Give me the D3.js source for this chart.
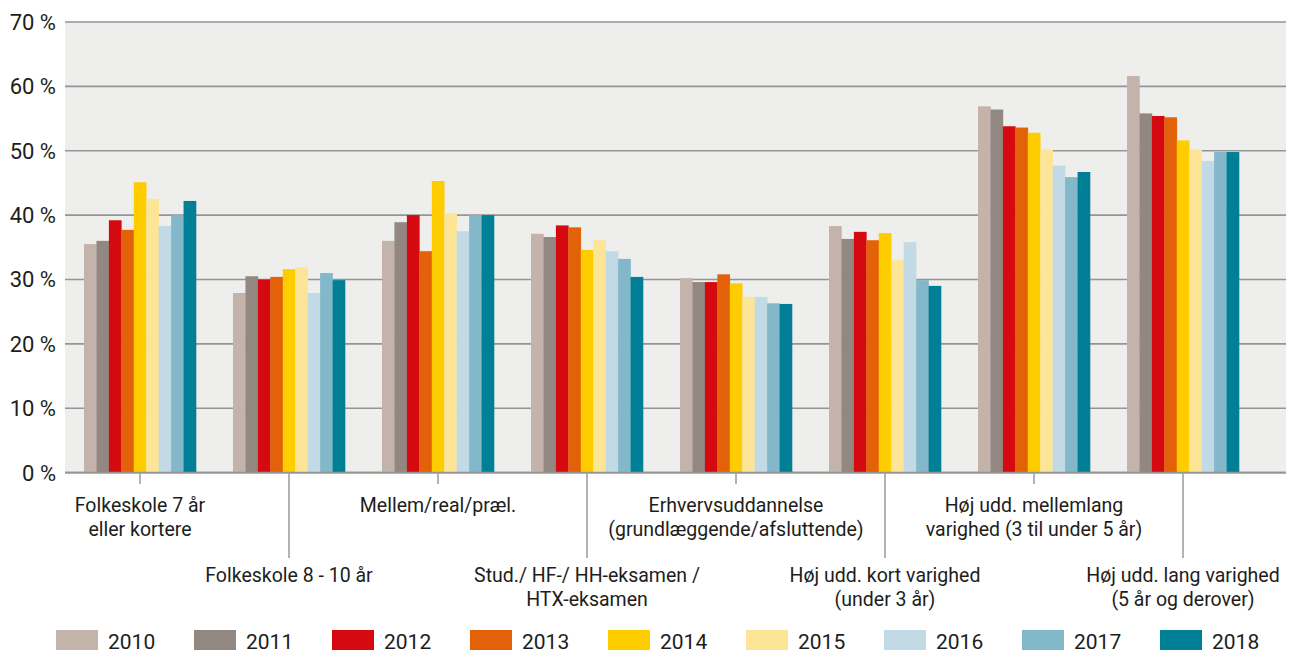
<!DOCTYPE html>
<html><head><meta charset="utf-8">
<script src="https://cdn.jsdelivr.net/npm/d3@7"></script>
<style>
html,body{margin:0;padding:0;background:#fff;}
svg{display:block;font-family:Roboto, "DejaVu Sans", sans-serif;}
</style></head>
<body><svg id="chart" width="1295" height="653"></svg>
<script>
const categories = ["Folkeskole 7 år eller kortere","Folkeskole 8 - 10 år","Mellem/real/præl.","Stud./ HF-/ HH-eksamen / HTX-eksamen","Erhvervsuddannelse (grundlæggende/afsluttende)","Høj udd. kort varighed (under 3 år)","Høj udd. mellemlang varighed (3 til under 5 år)","Høj udd. lang varighed (5 år og derover)"];
const categoryLines = [["Folkeskole 7 år","eller kortere"],["Folkeskole 8 - 10 år"],["Mellem/real/præl."],["Stud./ HF-/ HH-eksamen /","HTX-eksamen"],["Erhvervsuddannelse","(grundlæggende/afsluttende)"],["Høj udd. kort varighed","(under 3 år)"],["Høj udd. mellemlang","varighed (3 til under 5 år)"],["Høj udd. lang varighed","(5 år og derover)"]];
const years = ["2010","2011","2012","2013","2014","2015","2016","2017","2018"];
const colors = ["#c4b3ab","#928781","#d50a11","#e36209","#ffcc00","#fde597","#c2dae5","#82b8ca","#007f96"];
const v2010 = [35.5,27.9,36.0,37.1,30.2,38.3,56.9,61.6];
const v2011 = [36.0,30.5,38.9,36.6,29.6,36.3,56.4,55.8];
const v2012 = [39.2,30.0,40.0,38.4,29.6,37.4,53.8,55.4];
const v2013 = [37.7,30.4,34.4,38.1,30.8,36.1,53.6,55.2];
const v2014 = [45.1,31.6,45.3,34.6,29.4,37.2,52.8,51.6];
const v2015 = [42.5,31.9,40.3,36.1,27.3,33.0,50.2,50.2];
const v2016 = [38.3,27.9,37.5,34.4,27.3,35.8,47.7,48.4];
const v2017 = [40.0,31.0,40.0,33.2,26.3,29.9,45.9,49.8];
const v2018 = [42.2,29.9,40.0,30.4,26.2,29.0,46.7,49.8];
const series = [v2010,v2011,v2012,v2013,v2014,v2015,v2016,v2017,v2018];
const yTicks = [0,10,20,30,40,50,60,70];

const svg = d3.select("#chart");
const plotL = 65, plotR = 1286, plotT = 22, plotB = 472.6;

const x0 = d3.scaleBand().domain(categories).range([65.5, 1257.5]).paddingInner(0).paddingOuter(0);
const x1 = d3.scaleBand().domain(years).range([18.5, x0.bandwidth()-18.5]).paddingInner(0).paddingOuter(0);
const y = d3.scaleLinear().domain([0,70]).range([plotB, plotT]);
const color = d3.scaleOrdinal().domain(years).range(colors);

svg.append("rect").attr("x",plotL).attr("y",plotT).attr("width",plotR-plotL).attr("height",plotB-plotT).attr("fill","#eeeeec");

// gridlines
svg.append("g").selectAll("line").data(yTicks).join("line")
  .attr("x1",plotL).attr("x2",plotR).attr("y1",d=>y(d)).attr("y2",d=>y(d))
  .attr("stroke","#959595").attr("stroke-width",1.6);

// y labels
svg.append("g").selectAll("text").data(yTicks).join("text")
  .attr("x",56).attr("y",d=>y(d)).attr("dy","0.36em").attr("text-anchor","end")
  .attr("font-size",22).attr("fill","#1d1d1b").text(d=>d+" %");

// bars
const groups = svg.append("g").selectAll("g").data(categories).join("g")
  .attr("transform",d=>`translate(${x0(d)},0)`);
groups.selectAll("rect").data((d,i)=>years.map((yr,j)=>({yr, v:series[j][i]}))).join("rect")
  .attr("x",d=>x1(d.yr)).attr("width",x1.bandwidth()+0.3)
  .attr("y",d=>y(d.v)).attr("height",d=>y(0)-y(d.v))
  .attr("fill",d=>color(d.yr));

// axis line
svg.append("line").attr("x1",plotL).attr("x2",plotR).attr("y1",plotB).attr("y2",plotB).attr("stroke","#959595").attr("stroke-width",1.6);

// ticks
svg.append("g").selectAll("line").data(categories).join("line")
  .attr("x1",d=>x0(d)+x0.bandwidth()/2).attr("x2",d=>x0(d)+x0.bandwidth()/2)
  .attr("y1",plotB).attr("y2",(d,i)=> i%2===0 ? 484 : 558)
  .attr("stroke","#a0a0a0").attr("stroke-width",1.6);

// category labels
categories.forEach((c,i)=>{
  const cx = x0(c)+x0.bandwidth()/2;
  const base = i%2===0 ? 512 : 582;
  const t = svg.append("text").attr("text-anchor","middle").attr("font-size",19.5).attr("fill","#1d1d1b");
  categoryLines[i].forEach((ln,k)=>{
    t.append("tspan").attr("x",cx).attr("y",base+k*23.5).text(ln);
  });
});

// legend
const lg = svg.append("g").selectAll("g").data(years).join("g")
  .attr("transform",(d,i)=>`translate(${56+i*138},630)`);
lg.append("rect").attr("width",42).attr("height",20).attr("fill",d=>color(d));
lg.append("text").attr("x",52).attr("y",18.5).attr("font-size",21).attr("fill","#1d1d1b").text(d=>d);
</script></body></html>
